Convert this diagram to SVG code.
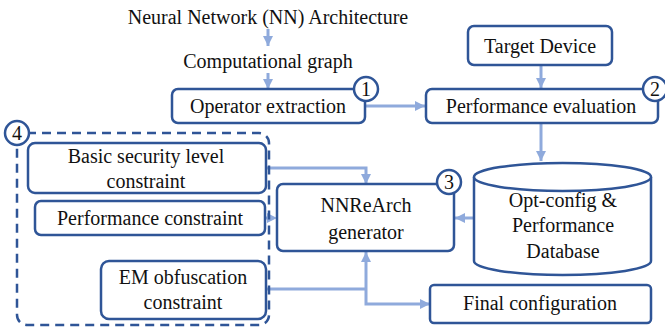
<svg xmlns="http://www.w3.org/2000/svg" width="665" height="329" viewBox="0 0 665 329" font-family="'Liberation Serif', 'DejaVu Serif', serif">
  <style>
    .box { fill: #ffffff; stroke: #2f5597; stroke-width: 2.5; }
    .dash { fill: none; stroke: #2f5597; stroke-width: 2.5; stroke-dasharray: 9 6; }
    .badge { fill: #ffffff; stroke: #2f5597; stroke-width: 2.5; }
    .flow { fill: none; stroke: #8faadc; stroke-width: 3; }
    .head { fill: #8faadc; }
    .lbl { font-family: 'Liberation Serif', serif; font-size: 20px; fill: #111111; text-anchor: middle; }
  </style>
  <defs>
    <marker id="arrow" markerUnits="userSpaceOnUse" markerWidth="12" markerHeight="12" refX="10" refY="6" orient="auto">
      <path d="M0,1 L10,6 L0,11 Z" fill="#8faadc"/>
    </marker>
  </defs>

  <!-- connectors -->
  <g id="connectors">
    <line class="flow" x1="268" y1="29" x2="268" y2="46" marker-end="url(#arrow)"/>
    <line class="flow" x1="268" y1="73" x2="268" y2="89" marker-end="url(#arrow)"/>
    <line class="flow" x1="366" y1="106" x2="425" y2="106" marker-end="url(#arrow)"/>
    <line class="flow" x1="541" y1="65" x2="541" y2="88" marker-end="url(#arrow)"/>
    <line class="flow" x1="541" y1="124" x2="541" y2="161" marker-end="url(#arrow)"/>
    <polyline class="flow" points="267,168 366,168 366,184" marker-end="url(#arrow)"/>
    <!-- short feed from the performance constraint -->
    <line class="flow" x1="266" y1="218" x2="269" y2="218"/>
    <path class="head" d="M267,213 L277,218 L267,223 Z"/>
    <line class="flow" x1="474" y1="218" x2="455" y2="218" marker-end="url(#arrow)"/>
    <polyline class="flow" points="267,289 366,289"/>
    <line class="flow" x1="366" y1="289" x2="366" y2="252" marker-end="url(#arrow)"/>
    <polyline class="flow" points="366,289 366,304 430,304" marker-end="url(#arrow)"/>
  </g>

  <g id="nn-architecture">
    <text class="lbl" x="268" y="24" font-family="Liberation Serif">Neural Network (NN) Architecture</text>
  </g>
  <g id="computational-graph">
    <text class="lbl" x="268" y="68">Computational graph</text>
  </g>

  <g id="operator-extraction">
    <rect class="box" x="172" y="89" width="193" height="34" rx="6"/>
    <text class="lbl" x="268" y="113">Operator extraction</text>
    <circle class="badge" cx="366" cy="89" r="12"/>
    <text class="lbl" x="366" y="96">1</text>
  </g>

  <g id="target-device">
    <rect class="box" x="468" y="26" width="144" height="39" rx="6"/>
    <text class="lbl" x="540" y="53">Target Device</text>
  </g>

  <g id="performance-evaluation">
    <rect class="box" x="426" y="89" width="232" height="34" rx="6"/>
    <text class="lbl" x="541" y="113">Performance evaluation</text>
    <circle class="badge" cx="655" cy="89" r="12"/>
    <text class="lbl" x="655" y="96">2</text>
  </g>

  <g id="constraints">
    <rect class="dash" x="17" y="133" width="252" height="192" rx="10"/>
    <circle class="badge" cx="17" cy="133" r="12"/>
    <text class="lbl" x="17" y="140">4</text>
  </g>

  <g id="basic-security">
    <rect class="box" x="28" y="143" width="238" height="50" rx="7"/>
    <text class="lbl" x="146" y="163">Basic security level</text>
    <text class="lbl" x="146" y="188">constraint</text>
  </g>

  <g id="performance-constraint">
    <rect class="box" x="35" y="201" width="230" height="34" rx="6"/>
    <text class="lbl" x="150" y="225">Performance constraint</text>
  </g>

  <g id="em-obfuscation">
    <rect class="box" x="101" y="261" width="165" height="58" rx="8"/>
    <text class="lbl" x="183" y="284">EM obfuscation</text>
    <text class="lbl" x="183" y="309">constraint</text>
  </g>

  <g id="nnrearch-generator">
    <rect class="box" x="277" y="184" width="177" height="67" rx="6"/>
    <text class="lbl" x="366" y="212">NNReArch</text>
    <text class="lbl" x="366" y="239">generator</text>
    <circle class="badge" cx="449" cy="182" r="12"/>
    <text class="lbl" x="449" y="189">3</text>
  </g>

  <g id="database">
    <path class="box" d="M474,177 L474,261 A88.5,14 0 0 0 651,261 L651,177"/>
    <ellipse class="box" cx="562.5" cy="177" rx="88.5" ry="14"/>
    <text class="lbl" x="563" y="207">Opt-config &amp;</text>
    <text class="lbl" x="563" y="232">Performance</text>
    <text class="lbl" x="563" y="258">Database</text>
  </g>

  <g id="final-configuration">
    <rect class="box" x="430" y="285" width="221" height="38" rx="4"/>
    <text class="lbl" x="540" y="310">Final configuration</text>
  </g>
</svg>
